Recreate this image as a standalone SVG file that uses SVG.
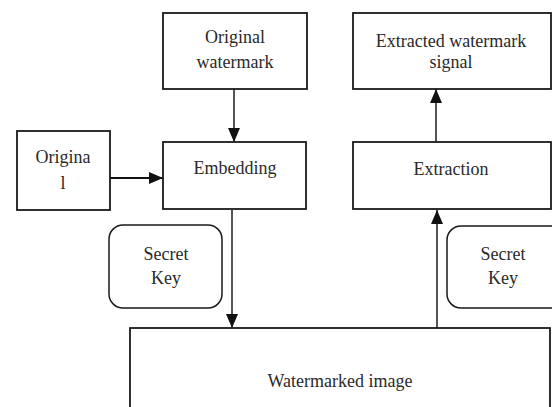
<svg xmlns="http://www.w3.org/2000/svg" width="552" height="407" viewBox="0 0 552 407">
  <style>
    .box { fill: #ffffff; stroke: #1a1a1a; stroke-width: 1.8; }
    .key { fill: #ffffff; stroke: #1a1a1a; stroke-width: 1.5; }
    .wire { stroke: #555555; stroke-width: 2; fill: none; }
    .wire-dark { stroke: #111111; stroke-width: 2; fill: none; }
  </style>
  <defs>
    <marker id="arrowTall" markerWidth="14" markerHeight="12" refX="14" refY="6" orient="auto" markerUnits="userSpaceOnUse">
      <path d="M0,0 L14,6 L0,12 Z" fill="#111111"/>
    </marker>
  </defs>

  <rect width="552" height="407" fill="#ffffff"/>

  <!-- connectors -->
  <g id="connectors">
    <line class="wire" x1="234" y1="89" x2="234" y2="142" marker-end="url(#arrowTall)"/>
    <line class="wire-dark" x1="110" y1="178" x2="163" y2="178" marker-end="url(#arrowTall)"/>
    <line class="wire" x1="232" y1="210" x2="232" y2="328" marker-end="url(#arrowTall)"/>
    <line class="wire" x1="437" y1="328" x2="437" y2="210" marker-end="url(#arrowTall)"/>
    <line class="wire" x1="436" y1="142" x2="436" y2="89" marker-end="url(#arrowTall)"/>
  </g>

  <g id="original-watermark">
    <rect class="box" x="163" y="13" width="144" height="76"/>
    <text x="235" y="43" font-family="Liberation Serif" font-size="18" text-anchor="middle" fill="#2a2a2a">Original</text>
    <text x="235" y="68" font-family="Liberation Serif" font-size="18" text-anchor="middle" fill="#2a2a2a">watermark</text>
  </g>

  <g id="extracted-signal">
    <rect class="box" x="353" y="13" width="198" height="76"/>
    <text x="451" y="47" font-family="Liberation Serif" font-size="18" text-anchor="middle" fill="#2a2a2a">Extracted watermark</text>
    <text x="451" y="68" font-family="Liberation Serif" font-size="18" text-anchor="middle" fill="#2a2a2a">signal</text>
  </g>

  <g id="original">
    <rect class="box" x="17" y="131" width="93" height="79"/>
    <text x="63" y="163" font-family="Liberation Serif" font-size="18" text-anchor="middle" fill="#2a2a2a">Origina</text>
    <text x="63" y="189" font-family="Liberation Serif" font-size="18" text-anchor="middle" fill="#2a2a2a">l</text>
  </g>

  <g id="embedding">
    <rect class="box" x="163" y="142" width="143" height="67"/>
    <text x="235" y="174" font-family="Liberation Serif" font-size="18" text-anchor="middle" fill="#2a2a2a">Embedding</text>
  </g>

  <g id="extraction">
    <rect class="box" x="353" y="142" width="198" height="67"/>
    <text x="451" y="175" font-family="Liberation Serif" font-size="18" text-anchor="middle" fill="#2a2a2a">Extraction</text>
  </g>

  <g id="secret-key-left">
    <rect class="key" x="109" y="225" width="113" height="83" rx="14" ry="14"/>
    <text x="166" y="260" font-family="Liberation Serif" font-size="18" text-anchor="middle" fill="#2a2a2a">Secret</text>
    <text x="166" y="284" font-family="Liberation Serif" font-size="18" text-anchor="middle" fill="#2a2a2a">Key</text>
  </g>

  <g id="secret-key-right">
    <rect class="key" x="447" y="226" width="118" height="82" rx="14" ry="14"/>
    <text x="503" y="260" font-family="Liberation Serif" font-size="18" text-anchor="middle" fill="#2a2a2a">Secret</text>
    <text x="503" y="284" font-family="Liberation Serif" font-size="18" text-anchor="middle" fill="#2a2a2a">Key</text>
  </g>

  <g id="watermarked-image">
    <rect class="box" x="130" y="328" width="420" height="100"/>
    <text x="340" y="387" font-family="Liberation Serif" font-size="18" text-anchor="middle" fill="#2a2a2a">Watermarked image</text>
  </g>
</svg>
